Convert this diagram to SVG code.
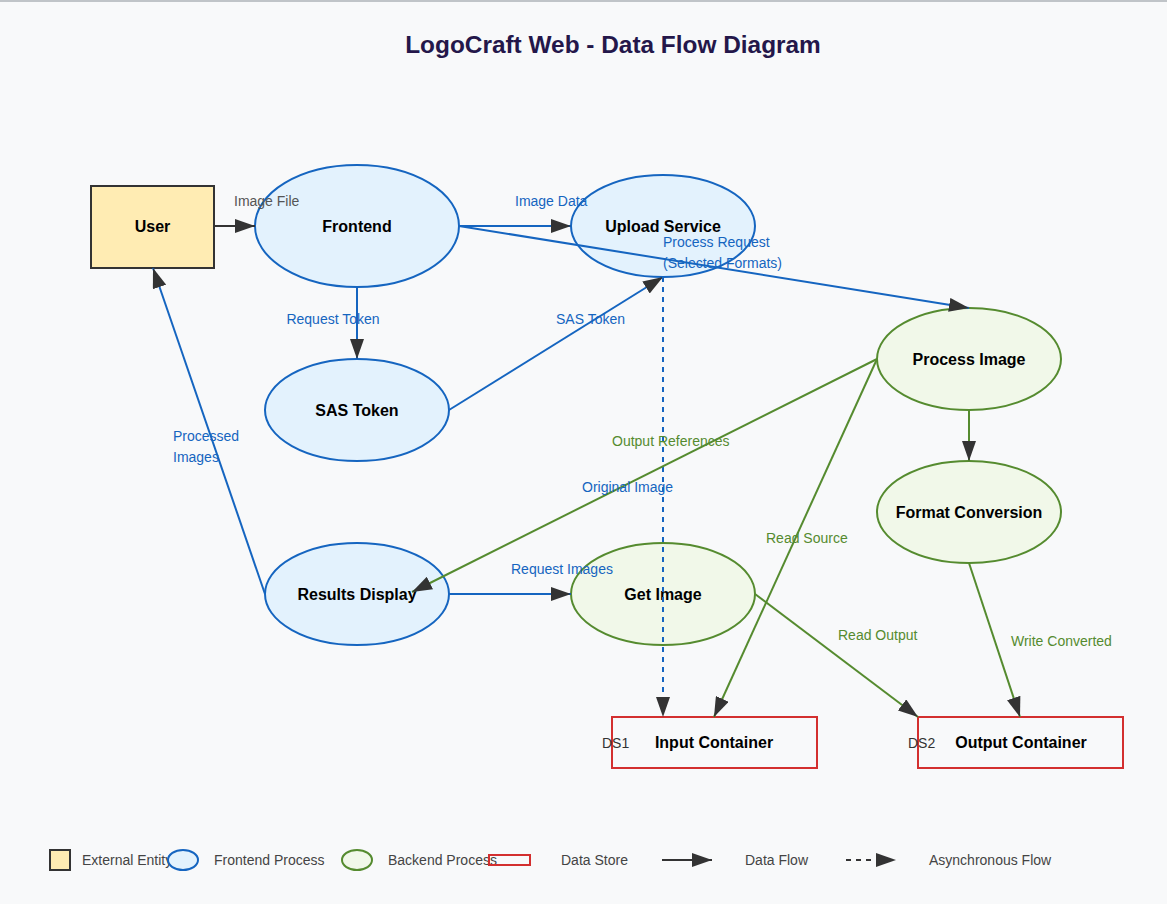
<svg xmlns="http://www.w3.org/2000/svg" width="1167" height="904" viewBox="0 0 1167 904">
<defs>
<marker id="arr" viewBox="0 0 10 7" markerWidth="10" markerHeight="7" refX="10" refY="3.5" orient="auto"><path d="M0,0 L10,3.5 L0,7 Z" fill="#333"/></marker>
<style>
.t{font-family:"Liberation Sans",Arial,sans-serif}
.nl{font-family:"Liberation Sans",Arial,sans-serif;font-size:16px;font-weight:bold;fill:#000;text-anchor:middle}
.fe{fill:#e3f2fd;stroke:#1565c0;stroke-width:2}
.be{fill:#f1f8e9;stroke:#558b2f;stroke-width:2}
.ds{fill:none;stroke:#d32f2f;stroke-width:2}
.eb{stroke:#1565c0;stroke-width:2;fill:none;marker-end:url(#arr)}
.eg{stroke:#558b2f;stroke-width:2;fill:none;marker-end:url(#arr)}
.ek{stroke:#333;stroke-width:2;fill:none;marker-end:url(#arr)}
.lb{font-family:"Liberation Sans",Arial,sans-serif;font-size:14px;fill:#1565c0}
.lg{font-family:"Liberation Sans",Arial,sans-serif;font-size:14px;fill:#558b2f}
.lk{font-family:"Liberation Sans",Arial,sans-serif;font-size:14px;fill:#555}
.leg{font-family:"Liberation Sans",Arial,sans-serif;font-size:14px;fill:#444;dominant-baseline:central}
</style>
</defs>
<rect x="0" y="0" width="1167" height="904" fill="#f8f9fa"/>
<rect x="0" y="0" width="1167" height="2" fill="#c0c4c8"/>
<text class="t" x="613" y="53" font-size="24.4" font-weight="bold" fill="#24174a" text-anchor="middle">LogoCraft Web - Data Flow Diagram</text>

<g id="user"><rect x="91" y="186" width="123" height="82" fill="#ffecb3" stroke="#333" stroke-width="2"/><text class="nl" x="152.5" y="232">User</text></g>
<g id="frontend"><ellipse class="fe" cx="357" cy="226" rx="102" ry="61"/><text class="nl" x="357" y="232">Frontend</text></g>
<g id="upload-service"><ellipse class="fe" cx="663" cy="226" rx="92" ry="51"/><text class="nl" x="663" y="232">Upload Service</text></g>
<g id="sas-token"><ellipse class="fe" cx="357" cy="410" rx="92" ry="51"/><text class="nl" x="357" y="416">SAS Token</text></g>
<g id="results-display"><ellipse class="fe" cx="357" cy="594" rx="92" ry="51"/><text class="nl" x="357" y="600">Results Display</text></g>
<g id="get-image"><ellipse class="be" cx="663" cy="594" rx="92" ry="51"/><text class="nl" x="663" y="600">Get Image</text></g>
<g id="process-image"><ellipse class="be" cx="969" cy="359" rx="92" ry="51"/><text class="nl" x="969" y="365">Process Image</text></g>
<g id="format-conversion"><ellipse class="be" cx="969" cy="512" rx="92" ry="51"/><text class="nl" x="969" y="518">Format Conversion</text></g>
<g id="input-container"><rect class="ds" x="612" y="717" width="205" height="51"/><text class="t" x="602" y="748" font-size="14" fill="#333">DS1</text><text class="nl" x="714" y="748">Input Container</text></g>
<g id="output-container"><rect class="ds" x="918" y="717" width="205" height="51"/><text class="t" x="908" y="748" font-size="14" fill="#333">DS2</text><text class="nl" x="1021" y="748">Output Container</text></g>

<g id="connectors">
<line class="ek" x1="214" y1="226" x2="255" y2="226"/>
<line class="eb" x1="459" y1="226" x2="571" y2="226"/>
<line class="eb" x1="459" y1="226" x2="969" y2="308"/>
<line class="eb" x1="357" y1="287" x2="357" y2="359"/>
<line class="eb" x1="449" y1="410" x2="663" y2="277"/>
<line class="eb" x1="663" y1="277" x2="663" y2="717" stroke-dasharray="5,5"/>
<line class="eg" x1="877" y1="359" x2="412" y2="592"/>
<line class="eg" x1="877" y1="359" x2="714" y2="717"/>
<line class="eg" x1="969" y1="410" x2="969" y2="461"/>
<line class="eg" x1="969" y1="563" x2="1020" y2="717"/>
<line class="eg" x1="755" y1="594" x2="918" y2="717"/>
<line class="eb" x1="449" y1="594" x2="571" y2="594"/>
<line class="eb" x1="265" y1="594" x2="153" y2="268"/>
<text class="lk" x="234" y="206">Image File</text>
<text class="lb" x="515" y="206">Image Data</text>
<text class="lb" x="663" y="247">Process Request</text>
<text class="lb" x="663" y="268">(Selected Formats)</text>
<text class="lb" x="333" y="324" text-anchor="middle">Request Token</text>
<text class="lb" x="556" y="324">SAS Token</text>
<text class="lg" x="612" y="446">Output References</text>
<text class="lb" x="582" y="492">Original Image</text>
<text class="lg" x="766" y="543">Read Source</text>
<text class="lb" x="511" y="574">Request Images</text>
<text class="lg" x="838" y="640">Read Output</text>
<text class="lg" x="1011" y="646">Write Converted</text>
<text class="lb" x="173" y="441">Processed</text>
<text class="lb" x="173" y="462">Images</text>
</g>

<g id="legend">
<rect x="50" y="850" width="20" height="20" fill="#ffecb3" stroke="#333" stroke-width="2"/>
<text class="leg" x="82" y="860">External Entity</text>
<ellipse class="fe" cx="183" cy="860" rx="15" ry="10"/>
<text class="leg" x="214" y="860">Frontend Process</text>
<ellipse class="be" cx="357" cy="860" rx="15" ry="10"/>
<text class="leg" x="388" y="860">Backend Process</text>
<rect class="ds" x="489" y="855" width="41" height="10"/>
<text class="leg" x="561" y="860">Data Store</text>
<line class="ek" x1="662" y1="860" x2="712" y2="860"/>
<text class="leg" x="745" y="860">Data Flow</text>
<line class="ek" x1="846" y1="860" x2="896" y2="860" stroke-dasharray="5,5"/>
<text class="leg" x="929" y="860">Asynchronous Flow</text>
</g>
</svg>
